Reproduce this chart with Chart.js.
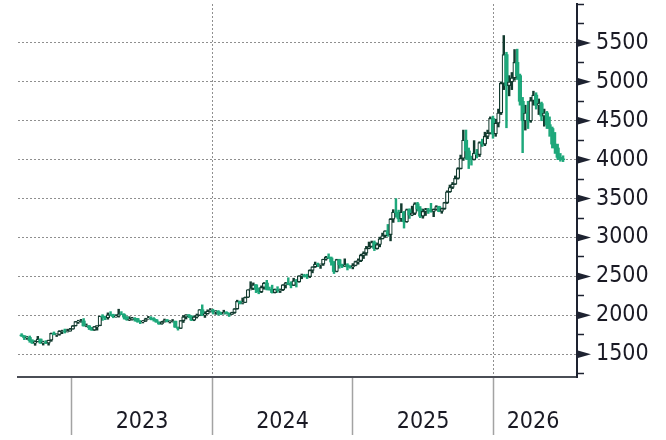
<!DOCTYPE html>
<html><head><meta charset="utf-8">
<script src="https://cdn.jsdelivr.net/npm/chart.js@4"></script>
<style>html,body{margin:0;padding:0;background:#fff;}#wrap{width:666px;height:440px;}</style>
</head><body><div id="wrap"><canvas id="c" width="666" height="440"></canvas></div>
<script>
// Weekly candles, first week starting Monday 2022-08-22
const firstWeek = '2022-08-22';
const open = [
1747,1737,1712,1716,1675,1644,1660,1695,1644,1656,1644,1681,1770,1751,1754,1796,1797,1793,1798,
1824,1866,1920,1926,1928,1864,1865,1842,1811,1856,1868,1989,1978,1969,2007,2004,1983,1990,2017,2011,1977,1946,1948,1961,1958,1921,1919,1925,1955,1962,1959,1942,1914,1889,1915,1940,1919,1924,1925,1848,1833,1932,1981,2006,1992,1940,1981,2001,2072,2005,2019,2053,
2063,2048,2049,2029,2018,2039,2024,2013,2035,2083,2179,2156,2165,2232,2329,2344,2392,2337,2301,2360,2415,2334,2327,2293,2333,2321,2326,2392,2411,2400,2386,2443,2431,2507,2512,2503,2497,2577,2622,2658,2653,2657,2721,2747,2737,2685,2563,2715,2650,2633,2648,2622,2621,
2640,2690,2703,2770,2798,2861,2883,2936,2858,2910,2984,3023,3085,3037,3237,3327,3319,3240,3325,3202,3357,3289,3310,3433,3368,3274,3337,3355,3350,3336,3363,3398,3335,3371,3448,3586,3643,3685,3760,3886,4018,4250,4112,4002,4000,4085,4065,4220,4200,4300,4340,4530,
4330,4470,4600,4980,5350,4950,5000,5050,5250,5080,4750,4500,4600,4500,4760,4830,4700,4720,4560,4600,4450,4400,4200,4150,4030,4010];
const high = [
1765,1740,1729,1735,1688,1674,1730,1697,1669,1675,1681,1773,1787,1764,1804,1810,1824,1823,1833,
1870,1922,1937,1949,1959,1890,1870,1846,1858,1870,1990,2009,1990,2032,2048,2015,2009,2079,2048,2022,1985,1983,1975,1971,1962,1934,1935,1963,1987,1983,1971,1948,1916,1924,1953,1947,1932,1947,1926,1850,1933,1997,2009,2010,1993,1993,2017,2075,2135,2047,2071,2088,
2079,2062,2062,2041,2066,2048,2031,2041,2088,2195,2185,2223,2236,2330,2432,2417,2395,2353,2378,2422,2450,2364,2388,2339,2368,2339,2395,2424,2483,2432,2477,2462,2509,2531,2528,2529,2586,2625,2685,2672,2660,2722,2758,2790,2750,2692,2721,2721,2658,2726,2664,2639,2665,
2697,2726,2786,2817,2886,2942,2955,2956,2930,3005,3057,3087,3168,3245,3358,3500,3352,3435,3335,3366,3370,3403,3447,3452,3398,3366,3375,3375,3439,3368,3409,3402,3379,3453,3600,3674,3707,3791,3897,4059,4380,4381,4150,4046,4245,4132,4230,4264,4353,4380,4550,4560,
4520,4650,5000,5595,5380,5080,5120,5415,5420,5100,4800,4700,4750,4800,4880,4860,4780,4740,4650,4620,4550,4420,4350,4200,4080,4050];
const low = [
1728,1688,1691,1654,1639,1615,1659,1640,1618,1638,1617,1666,1750,1728,1744,1765,1773,1785,1796,
1822,1862,1896,1911,1861,1853,1818,1808,1805,1810,1866,1935,1944,1950,1993,1969,1975,1977,2008,1952,1936,1932,1938,1925,1910,1893,1902,1921,1950,1942,1925,1911,1885,1885,1912,1915,1901,1913,1846,1810,1830,1908,1953,1970,1932,1931,1965,1995,1995,1973,2016,2040,
2017,2013,2002,2010,2017,2015,1985,2012,2025,2078,2146,2146,2163,2228,2326,2331,2292,2277,2291,2336,2326,2324,2286,2287,2295,2293,2318,2351,2393,2353,2381,2364,2425,2470,2491,2472,2485,2546,2615,2625,2603,2641,2708,2729,2644,2537,2558,2605,2613,2627,2583,2605,2597,
2636,2657,2690,2730,2772,2855,2875,2832,2850,2880,2980,3000,3015,2957,3194,3260,3202,3206,3121,3195,3245,3280,3294,3340,3255,3248,3283,3309,3325,3268,3350,3331,3311,3361,3436,3580,3628,3680,3750,3880,3990,4004,3886,3930,3995,4022,4040,4170,4180,4270,4330,4275,
4300,4420,4580,4900,4410,4820,4900,5020,5030,4700,4090,4380,4400,4480,4700,4650,4580,4500,4430,4400,4300,4150,4080,4000,3980,3975];
const close = [
1737,1712,1716,1675,1644,1660,1695,1644,1656,1644,1681,1770,1751,1754,1797,1797,1793,1798,1824,
1866,1920,1926,1928,1865,1865,1842,1811,1856,1868,1989,1978,1969,2007,2004,1983,1990,2017,2011,1977,1946,1948,1961,1958,1921,1919,1925,1955,1962,1959,1942,1914,1889,1915,1940,1919,1924,1925,1848,1833,1932,1981,2006,1992,1940,1981,2001,2072,2005,2019,2053,2063,
2049,2049,2029,2018,2039,2024,2013,2035,2083,2179,2156,2165,2232,2329,2344,2392,2337,2301,2360,2415,2334,2327,2293,2333,2321,2326,2392,2411,2400,2386,2443,2431,2507,2512,2503,2497,2577,2622,2658,2653,2657,2721,2747,2737,2685,2563,2715,2650,2633,2648,2622,2621,2640,
2690,2703,2770,2798,2861,2883,2936,2858,2910,2984,3023,3085,3037,3237,3327,3319,3240,3325,3202,3357,3289,3310,3433,3368,3274,3337,3355,3350,3336,3363,3398,3335,3371,3448,3586,3643,3685,3760,3886,4018,4250,4112,4002,4000,4085,4065,4220,4200,4300,4340,4530,4330,
4470,4600,4980,5350,4950,5000,5050,5250,5080,4750,4500,4600,4500,4760,4830,4700,4720,4560,4600,4450,4400,4200,4150,4030,4010,4000];

const yearBoundaries = [2023, 2024, 2025, 2026];
const dottedYears = [2024, 2026];
const yearLabels = ['2023', '2024', '2025', '2026'];
const yearLabelPos = [2023.5, 2024.5, 2025.5, 2026.282];
const yTicks = [1250,1500,1750,2000,2250,2500,2750,3000,3250,3500,3750,4000,4250,4500,4750,5000,5250,5500,5750,6000];
const yLabelTicks = [1500,2000,2500,3000,3500,4000,4500,5000,5500];

const X_MIN = 2022.618, X_MAX = 2026.595;
const Y_MIN = 1208, Y_MAX = 6000;

const GREEN = '#1ea87b', DARK = '#123a2e', GRID = '#8f8f8f', AXIS = '#1d2230', SEP = '#a3a3a3', TEXT = '#1a1a24';
const FONT = "'DejaVu Sans Condensed', 'DejaVu Sans', sans-serif";

function decYear(d) {
  const y = d.getUTCFullYear();
  const s = Date.UTC(y, 0, 1), e = Date.UTC(y + 1, 0, 1);
  return y + (d.getTime() - s) / (e - s);
}
const t0 = Date.parse(firstWeek + 'T00:00:00Z');
const xs = open.map((_, i) => decYear(new Date(t0 + (i * 7 + 2) * 86400000)));
const isUp = i => close[i] >= open[i];

const bodyData = open.map((o, i) => ({ x: xs[i], y: [o, close[i]] }));
const wickData = open.map((o, i) => ({ x: xs[i], y: [low[i], high[i]] }));

const markerPlugin = {
  id: 'markers',
  afterDraw(chart) {
    const s = chart.scales.y, c = chart.ctx;
    c.save();
    c.fillStyle = AXIS;
    yLabelTicks.forEach(v => {
      const py = s.getPixelForValue(v);
      c.beginPath();
      c.moveTo(s.left, py - 4);
      c.lineTo(s.left + 14, py);
      c.lineTo(s.left, py + 4);
      c.closePath();
      c.fill();
    });
    c.restore();
  }
};

new Chart(document.getElementById('c'), {
  type: 'bar',
  data: {
    datasets: [
      {
        data: bodyData, grouped: false, order: 0, barThickness: 3.5,
        backgroundColor: ctx => isUp(ctx.dataIndex) ? '#ffffff' : GREEN,
        borderColor: ctx => isUp(ctx.dataIndex) ? DARK : GREEN,
        borderWidth: ctx => isUp(ctx.dataIndex) ? 1.2 : 0,
        borderSkipped: false
      },
      {
        data: wickData, grouped: false, order: 1, barThickness: 1.8,
        backgroundColor: ctx => isUp(ctx.dataIndex) ? DARK : GREEN,
        borderWidth: 0
      }
    ]
  },
  options: {
    responsive: false, animation: false, devicePixelRatio: 1,
    layout: { padding: { left: 18, top: 4, right: 0, bottom: 0 } },
    plugins: { legend: { display: false }, tooltip: { enabled: false } },
    scales: {
      x: {
        type: 'linear', min: X_MIN, max: X_MAX, offset: false, position: 'bottom',
        afterBuildTicks: s => {
          const t = [];
          yearBoundaries.forEach((b, i) => { t.push({ value: b }); t.push({ value: yearLabelPos[i] }); });
          s.ticks = t;
        },
        afterFit: s => { s.height = 63; s.paddingLeft = 0; s.paddingRight = 0; s.paddingTop = 0; s.paddingBottom = 0; },
        grid: {
          offset: false,
          drawOnChartArea: true, drawTicks: true, tickLength: 58, lineWidth: 1, tickWidth: 1.5,
          color: ctx => (ctx.tick && dottedYears.includes(ctx.tick.value)) ? GRID : 'rgba(0,0,0,0)',
          tickColor: ctx => (ctx.tick && yearBoundaries.includes(ctx.tick.value)) ? SEP : 'rgba(0,0,0,0)',
          tickBorderDash: []
        },
        border: { display: true, color: '#4a4d55', width: 2, dash: [2, 2] },
        ticks: {
          autoSkip: false, maxRotation: 0, minRotation: 0, padding: -27,
          color: TEXT, font: { family: FONT, size: 23 },
          callback: v => { const k = yearLabelPos.indexOf(v); return k >= 0 ? yearLabels[k] : ''; }
        }
      },
      y: {
        type: 'linear', position: 'right', min: Y_MIN, max: Y_MAX,
        afterBuildTicks: s => { s.ticks = yTicks.map(v => ({ value: v })); },
        afterFit: s => { s.width = 89; s.paddingTop = 0; s.paddingBottom = 0; s.paddingLeft = 0; s.paddingRight = 0; },
        grid: {
          offset: false,
          drawOnChartArea: true, drawTicks: true, tickLength: 7, lineWidth: 1, tickWidth: 1.5,
          color: ctx => (ctx.tick && yLabelTicks.includes(ctx.tick.value)) ? GRID : 'rgba(0,0,0,0)',
          tickColor: AXIS, tickBorderDash: []
        },
        border: { display: true, color: AXIS, width: 2, dash: [2, 2] },
        ticks: {
          autoSkip: false, padding: 12, color: TEXT, font: { family: FONT, size: 23 },
          callback: v => yLabelTicks.includes(v) ? String(v) : ''
        }
      }
    }
  },
  plugins: [markerPlugin]
});
</script>
</body></html>
